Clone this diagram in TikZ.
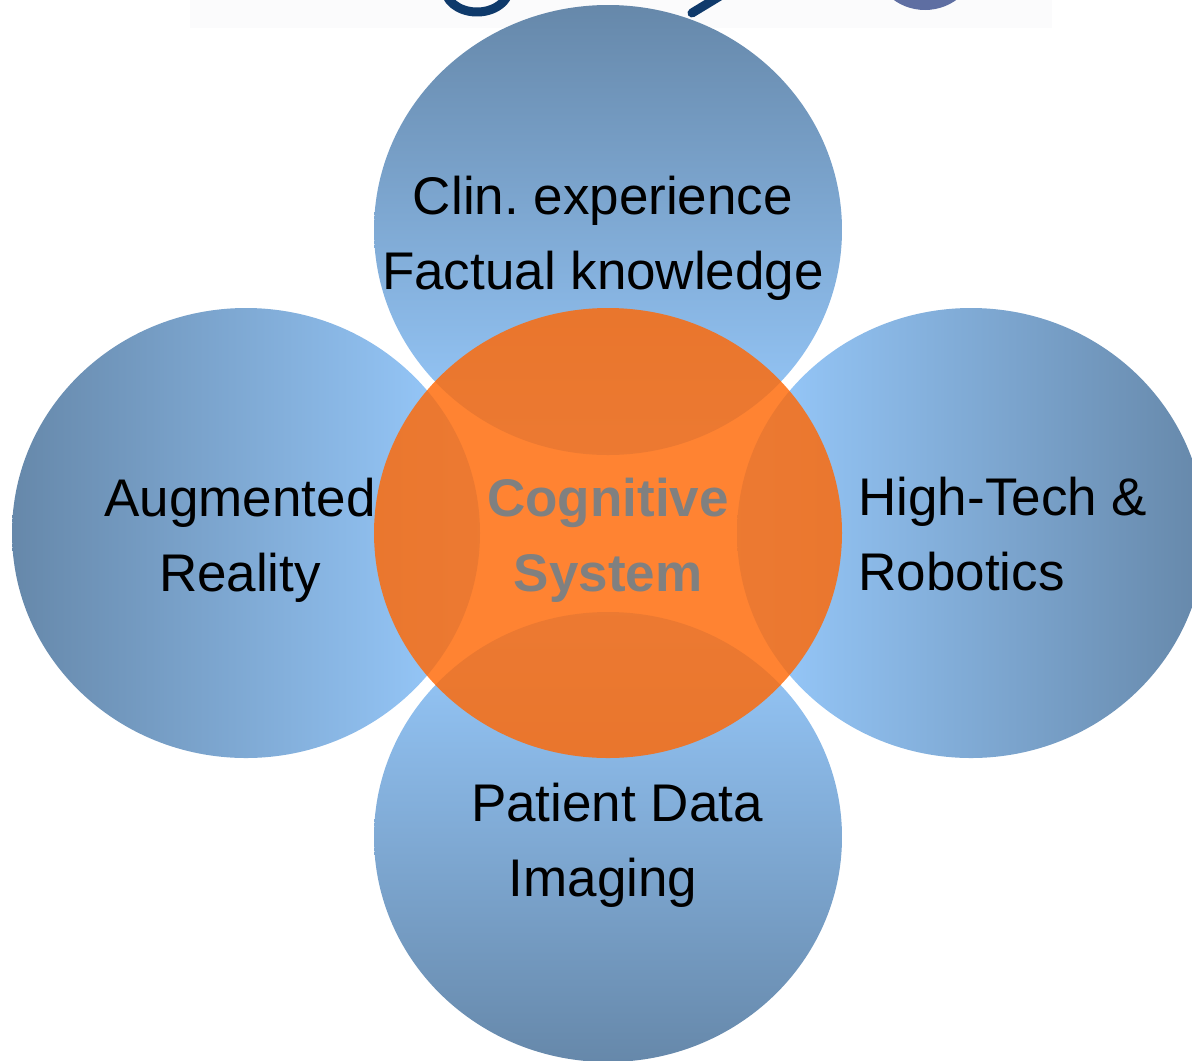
\documentclass[tikz,border=0pt]{standalone}
\usepackage{fontspec}
\setmainfont{Liberation Sans}
\usetikzlibrary{shapes.geometric}
\definecolor{bluedark}{HTML}{6688AA}
\definecolor{bluelight}{HTML}{99CCFF}
\definecolor{cogorange}{RGB}{255,104,5}
\definecolor{coggray}{HTML}{808080}
\definecolor{logonavy}{HTML}{0F3A6B}
\definecolor{logoslate}{HTML}{5E6EA2}
\definecolor{stripgray}{HTML}{FBFBFC}
\tikzset{
  blob/.style={ellipse, minimum width=234pt, minimum height=225pt, inner sep=0pt},
  txt/.style={align=center, inner sep=0pt, font=\fontsize{26.5}{37.5}\selectfont}
}

\begin{document}
\begin{tikzpicture}[x=0.5pt,y=-0.5pt]
    \useasboundingbox (0,0) rectangle (1192,1060);
    \clip (0,0) rectangle (1192,1060);

    % Cut-off logo strip at the top
    \fill[stripgray] (190,0) rectangle (1052,28);
    \fill[logoslate] (925,-40) ellipse[x radius=52, y radius=50];
    \draw[logonavy, line width=4.5pt] (477,-12) ++(160:32 and 24) arc[start angle=160, end angle=20, x radius=32, y radius=24];
    \draw[logonavy, line width=4.5pt, line cap=round] (720,-4) -- (692,13);

    % Outer circles
    \node[blob, top color=bluedark, bottom color=bluelight] (clin) at (608,230) {};
    \node[blob, top color=bluelight, bottom color=bluedark] (patient) at (608,837) {};
    \node[blob, left color=bluedark, right color=bluelight] (augment) at (246,533) {};
    \node[blob, left color=bluelight, right color=bluedark] (robot) at (971,533) {};

    % Center
    \node[blob, fill=cogorange, fill opacity=0.82] (cog) at (608,533) {};

    % Labels
    \node[txt] (clintxt) at (603,238) {Clin.\ experience\\Factual knowledge};
    \node[txt] (augtxt) at (240,540) {Augmented\\Reality};
    \node[txt, align=left, anchor=west] (robtxt) at (858,534) {High-Tech \&\\Robotics};
    \node[txt] (pattxt) at (617,845) {Patient Data\\Imaging\kern14pt\mbox{}};
    \node[txt, text=coggray, font=\bfseries\fontsize{26.5}{37.5}\selectfont] (cogtxt) at (608,540) {Cognitive\\System};
\end{tikzpicture}
\end{document}
